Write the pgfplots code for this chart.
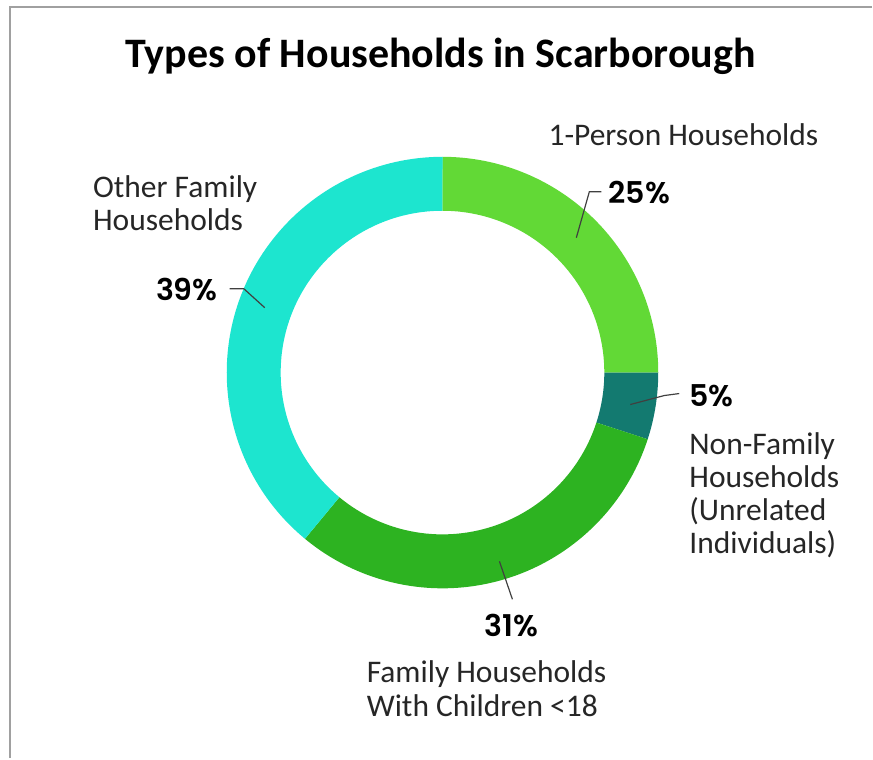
\documentclass[border=0pt]{standalone}
\usepackage{pgfplots}
\usepackage{pgfplotstable}
\pgfplotsset{compat=1.18}
\usepackage{fontspec}
\setmainfont{Carlito}
\newfontfamily\pctfont[UprightFont=* SemiBold]{Poppins}

\definecolor{cOne}{HTML}{62D936}
\definecolor{cNon}{HTML}{137A70}
\definecolor{cFam}{HTML}{2DB321}
\definecolor{cOth}{HTML}{1DE5CF}
\definecolor{frame}{HTML}{A0A0A0}
\definecolor{leader}{HTML}{404040}

% share of households, %, clockwise from the top
\pgfplotstableread[col sep=comma]{
label,value
1-Person,25
NonFamily,5
FamilyChildren,31
OtherFamily,39
}\slices

\newcommand{\cx}{443}
\newcommand{\cy}{386}
\newcommand{\Ro}{216}
\newcommand{\Ri}{162}

% annular sector between angles #1 and #2
\newcommand{\ringslice}[3]{%
  \fill[#3] (axis cs:{\cx+\Ro*cos(#1)},{\cy+\Ro*sin(#1)})
    arc[start angle=#1,end angle=#2,radius=\Ro bp]
    -- (axis cs:{\cx+\Ri*cos(#2)},{\cy+\Ri*sin(#2)})
    arc[start angle=#2,end angle=#1,radius=\Ri bp] -- cycle;}

\begin{document}
\begin{tikzpicture}
\pgfplotstablegetelem{0}{value}\of\slices \let\vA\pgfplotsretval
\pgfplotstablegetelem{1}{value}\of\slices \let\vB\pgfplotsretval
\pgfplotstablegetelem{2}{value}\of\slices \let\vC\pgfplotsretval
\pgfplotstablegetelem{3}{value}\of\slices \let\vD\pgfplotsretval
\pgfmathsetmacro{\aA}{90}
\pgfmathsetmacro{\aB}{\aA-3.6*\vA}
\pgfmathsetmacro{\aC}{\aB-3.6*\vB}
\pgfmathsetmacro{\aD}{\aC-3.6*\vC}
\pgfmathsetmacro{\aE}{\aD-3.6*\vD}
\begin{axis}[
    x=1bp, y=1bp,
    xmin=0, xmax=873, ymin=0, ymax=759,
    hide axis, clip=false, scale only axis
]
    \path (axis cs:0,0) rectangle (axis cs:873,759);
    % frame
    \draw[frame, line width=2bp] (axis cs:10,0) -- (axis cs:10,752) -- (axis cs:873,752);

    \ringslice{\aA}{\aB}{cOne}
    \ringslice{\aB}{\aC}{cNon}
    \ringslice{\aC}{\aD}{cFam}
    \ringslice{\aD}{\aE}{cOth}

    \node[anchor=base, font=\fontsize{42bp}{46bp}\selectfont\bfseries]
        at (axis cs:441,691) {Types of Households in Scarborough};

    % leaders
    \draw[leader, line width=1.2bp] (axis cs:577,521) -- (axis cs:590,567) -- (axis cs:602,567);
    \draw[leader, line width=1.2bp] (axis cs:631,354) -- (axis cs:665,363) -- (axis cs:680,365);
    \draw[leader, line width=1.2bp] (axis cs:230,470) -- (axis cs:244,470) -- (axis cs:265,451);
    \draw[leader, line width=1.2bp] (axis cs:500,197) -- (axis cs:513,159);

    % percentages
    \begin{scope}[every node/.style={font=\fontsize{30bp}{33bp}\pctfont, inner sep=0pt}]
    \node[anchor=base west] at (axis cs:609,555) {25\%};
    \node[anchor=base west] at (axis cs:690,352) {5\%};
    \node[anchor=base west] at (axis cs:156,458) {39\%};
    \node[anchor=base] at (axis cs:512,122) {31\%};
    \end{scope}

    % category labels
    \begin{scope}[every node/.style={font=\fontsize{31.5bp}{33bp}\selectfont, inner sep=0pt, anchor=base west, text=black!85}]
    \node at (axis cs:549,613) {1-Person Households};
    \node at (axis cs:93,561) {Other Family};
    \node at (axis cs:93,528) {Households};
    \node at (axis cs:690,304) {Non-Family};
    \node at (axis cs:690,271) {Households};
    \node at (axis cs:690,238) {(Unrelated};
    \node at (axis cs:690,205) {Individuals)};
    \node at (axis cs:367,76) {Family Households};
    \node at (axis cs:367,42) {With Children <18};
    \end{scope}
\end{axis}
\end{tikzpicture}
\end{document}
